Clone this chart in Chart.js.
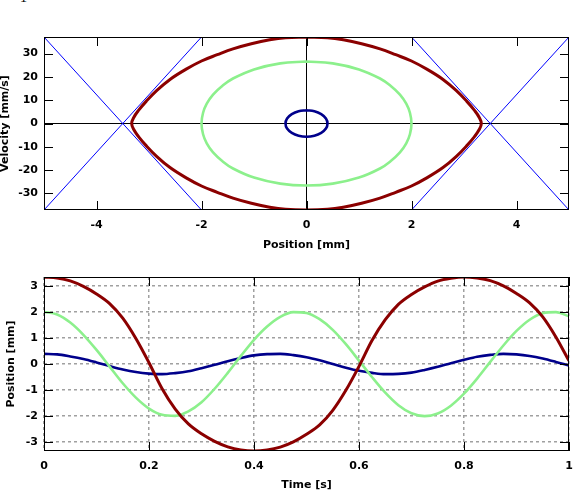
<!DOCTYPE html>
<html>
<head>
<meta charset="utf-8">
<script src="https://cdn.jsdelivr.net/npm/chart.js@4.4.1/dist/chart.umd.min.js"></script>
<style>
  body { margin: 0; background: #fff; width: 574px; height: 492px; overflow: hidden; position: relative; }
  canvas { position: absolute; left: 0; }
  #phase_canvas { top: 0; }
  #time_canvas { top: 252px; }
  #corner_label { position: absolute; left: 20px; top: -9px; font-family: "Liberation Serif", serif; font-size: 14px; line-height: 14px; }
</style>
</head>
<body>
<div id="corner_label">1</div>
<canvas id="phase_canvas" width="574" height="252"></canvas>
<canvas id="time_canvas" width="574" height="240"></canvas>
<script>
Chart.defaults.color = '#000';
Chart.defaults.font.family = '"DejaVu Sans", sans-serif';
Chart.defaults.font.size = 11;
Chart.defaults.font.weight = 'bold';
Chart.defaults.animation = false;

const red_color = '#8b0000';
const green_color = '#8cf08c';
const navy_color = '#00008b';
const separatrix_color = '#0000ff';
const TICK_LEN = 9;

// ---- phase portrait (position [mm] vs velocity [mm/s]) ----
const phase_x_ticks = [-4, -2, 0, 2, 4];
const phase_v_ticks = [-30, -20, -10, 0, 10, 20, 30];

const red_loop_x = [0, -0.4, -0.7, -1.05, -1.4, -1.7, -2.0, -2.3, -2.6, -2.85, -3.05, -3.2, -3.29, -3.33,
    -3.29, -3.2, -3.05, -2.85, -2.6, -2.3, -2.0, -1.7, -1.4, -1.05, -0.7, -0.4, 0,
    0.4, 0.7, 1.05, 1.4, 1.7, 2.0, 2.3, 2.6, 2.85, 3.05, 3.2, 3.29, 3.33,
    3.29, 3.2, 3.05, 2.85, 2.6, 2.3, 2.0, 1.7, 1.4, 1.05, 0.7, 0.4, 0];
const red_loop_v = [37.1, 36.8, 35.9, 34.2, 32.0, 29.5, 26.8, 23.2, 18.9, 14.2, 9.6, 5.6, 2.6, 0,
    -2.6, -5.6, -9.6, -14.2, -18.9, -23.2, -26.8, -29.5, -32.0, -34.2, -35.9, -36.8, -37.1,
    -36.8, -35.9, -34.2, -32.0, -29.5, -26.8, -23.2, -18.9, -14.2, -9.6, -5.6, -2.6, 0,
    2.6, 5.6, 9.6, 14.2, 18.9, 23.2, 26.8, 29.5, 32.0, 34.2, 35.9, 36.8, 37.1];

const green_loop_x = [0, -0.5, -1.0, -1.4, -1.6, -1.78, -1.9, -1.97, -2.0, -1.97, -1.9, -1.78, -1.6, -1.4, -1.0, -0.5,
    0, 0.5, 1.0, 1.4, 1.6, 1.78, 1.9, 1.97, 2.0, 1.97, 1.9, 1.78, 1.6, 1.4, 1.0, 0.5, 0];
const green_loop_v = [26.6, 25.8, 23.2, 19.3, 16.2, 12.4, 8.5, 4.6, 0, -4.6, -8.5, -12.4, -16.2, -19.3, -23.2, -25.8,
    -26.6, -25.8, -23.2, -19.3, -16.2, -12.4, -8.5, -4.6, 0, 4.6, 8.5, 12.4, 16.2, 19.3, 23.2, 25.8, 26.6];

const navy_loop_x = [0, -0.15, -0.28, -0.37, -0.40, -0.37, -0.28, -0.15, 0, 0.15, 0.28, 0.37, 0.40, 0.37, 0.28, 0.15, 0];
const navy_loop_v = [5.7, 5.27, 4.03, 2.18, 0, -2.18, -4.03, -5.27, -5.7, -5.27, -4.03, -2.18, 0, 2.18, 4.03, 5.27, 5.7];

// asymptote lines through the saddle points
const separatrix_x = [[-5, -2], [-5, -2], [2, 5], [2, 5]];
const separatrix_v = [[-37.1, 37.1], [37.1, -37.1], [37.1, -37.1], [-37.1, 37.1]];

// ---- position vs time ----
const time_ticks = [0, 0.2, 0.4, 0.6, 0.8, 1];
const pos_ticks = [-3, -2, -1, 0, 1, 2, 3];

const time_s = [0, 0.025, 0.05, 0.075, 0.1, 0.125, 0.15, 0.175, 0.2, 0.225,
    0.25, 0.275, 0.3, 0.325, 0.35, 0.375, 0.4, 0.425, 0.45, 0.475,
    0.5, 0.525, 0.55, 0.575, 0.6, 0.625, 0.65, 0.675, 0.7, 0.725,
    0.75, 0.775, 0.8, 0.825, 0.85, 0.875, 0.9, 0.925, 0.95, 0.975, 1];
const red_pos = [3.34, 3.30, 3.19, 2.98, 2.69, 2.32, 1.76, 0.98, 0.05, -0.95,
    -1.73, -2.30, -2.68, -2.97, -3.18, -3.30, -3.34, -3.30, -3.19, -2.99,
    -2.70, -2.34, -1.78, -1.01, -0.09, 0.91, 1.70, 2.29, 2.67, 2.96,
    3.18, 3.29, 3.34, 3.30, 3.20, 3.00, 2.71, 2.35, 1.81, 1.04, 0.12];
const green_pos = [2.00, 1.90, 1.59, 1.12, 0.54, -0.10, -0.74, -1.29, -1.71, -1.95,
    -1.99, -1.82, -1.47, -0.95, -0.34, 0.31, 0.93, 1.44, 1.81, 1.99,
    1.96, 1.72, 1.31, 0.76, 0.13, -0.51, -1.10, -1.58, -1.89, -2.00,
    -1.90, -1.60, -1.14, -0.56, 0.08, 0.71, 1.27, 1.70, 1.95, 1.99, 1.83];
const navy_pos = [0.39, 0.37, 0.29, 0.19, 0.06, -0.08, -0.21, -0.31, -0.37, -0.39,
    -0.35, -0.28, -0.16, -0.03, 0.11, 0.23, 0.33, 0.38, 0.39, 0.34,
    0.26, 0.14, 0.00, -0.14, -0.26, -0.34, -0.39, -0.38, -0.33, -0.23,
    -0.11, 0.03, 0.16, 0.28, 0.35, 0.39, 0.37, 0.31, 0.21, 0.08, -0.06];

function pairs(xs, ys) {
    return xs.map((x, i) => ({ x: x, y: ys[i] }));
}

function useTicks(values) {
    return scale => { scale.ticks = values.map(v => ({ value: v })); };
}

// keep the axis boxes at fixed sizes so the plot areas line up
function pinWidth(width) {
    return scale => { scale.width = width; scale.paddingTop = 0; scale.paddingBottom = 0; };
}
function pinHeight(height) {
    return scale => { scale.height = height; scale.paddingLeft = 0; scale.paddingRight = 0; };
}

// black frame with inward tick marks on all four sides
const framePlugin = {
    id: 'frame',
    afterDraw(chart) {
        const { ctx, chartArea: a, scales } = chart;
        ctx.save();
        ctx.strokeStyle = '#000';
        ctx.lineWidth = 1;
        ctx.setLineDash([]);
        ctx.beginPath();
        scales.x.ticks.forEach(t => {
            const px = Math.round(scales.x.getPixelForValue(t.value)) + 0.5;
            ctx.moveTo(px, a.top); ctx.lineTo(px, a.top + TICK_LEN);
            ctx.moveTo(px, a.bottom); ctx.lineTo(px, a.bottom - TICK_LEN);
        });
        scales.y.ticks.forEach(t => {
            const py = Math.round(scales.y.getPixelForValue(t.value)) + 0.5;
            ctx.moveTo(a.left, py); ctx.lineTo(a.left + TICK_LEN, py);
            ctx.moveTo(a.right, py); ctx.lineTo(a.right - TICK_LEN, py);
        });
        ctx.stroke();
        ctx.strokeRect(a.left + 0.5, a.top + 0.5, a.right - a.left - 1, a.bottom - a.top - 1);
        ctx.restore();
    }
};

function curve(data, color, width) {
    return {
        data: data,
        showLine: true,
        borderColor: color,
        borderWidth: width,
        pointRadius: 0,
        tension: 0.4,
        fill: false
    };
}

function trace(data, color, width) {
    const c = curve(data, color, width);
    c.cubicInterpolationMode = 'monotone';
    return c;
}

const zeroLine = ctx => (ctx.tick && ctx.tick.value === 0) ? '#000' : 'rgba(0,0,0,0)';

const phaseDatasets = [
    curve(pairs(red_loop_x, red_loop_v), red_color, 3),
    curve(pairs(green_loop_x, green_loop_v), green_color, 2.6),
    curve(pairs(navy_loop_x, navy_loop_v), navy_color, 2.6)
];
separatrix_x.forEach((xs, i) => {
    const line = curve(pairs(xs, separatrix_v[i]), separatrix_color, 1);
    line.tension = 0;
    phaseDatasets.push(line);
});

new Chart(document.getElementById('phase_canvas'), {
    type: 'scatter',
    data: { datasets: phaseDatasets },
    options: {
        responsive: false,
        devicePixelRatio: 1,
        layout: { padding: { top: 37, right: 5, left: 0, bottom: 0 } },
        plugins: { legend: { display: false }, tooltip: { enabled: false } },
        scales: {
            x: {
                type: 'linear', min: -5, max: 5,
                afterBuildTicks: useTicks(phase_x_ticks),
                afterFit: pinHeight(42),
                ticks: { padding: 9, maxRotation: 0, autoSkip: false, callback: v => String(v) },
                grid: { drawTicks: false, color: zeroLine, lineWidth: 1 },
                border: { display: false },
                title: { display: true, text: 'Position [mm]', padding: 0 }
            },
            y: {
                type: 'linear', min: -37.1, max: 37.1,
                afterBuildTicks: useTicks(phase_v_ticks),
                afterFit: pinWidth(44),
                ticks: { padding: 6, autoSkip: false, callback: v => String(v) },
                grid: { drawTicks: false, color: zeroLine, lineWidth: 1 },
                border: { display: false },
                title: { display: true, text: 'Velocity [mm/s]', padding: 0, font: { lineHeight: 1 } }
            }
        }
    },
    plugins: [framePlugin]
});

new Chart(document.getElementById('time_canvas'), {
    type: 'scatter',
    data: {
        datasets: [
            trace(pairs(time_s, red_pos), red_color, 3),
            trace(pairs(time_s, green_pos), green_color, 2.6),
            trace(pairs(time_s, navy_pos), navy_color, 2.6)
        ]
    },
    options: {
        responsive: false,
        devicePixelRatio: 1,
        layout: { padding: { top: 25, right: 5, left: 0, bottom: 0 } },
        plugins: { legend: { display: false }, tooltip: { enabled: false } },
        scales: {
            x: {
                type: 'linear', min: 0, max: 1,
                afterBuildTicks: useTicks(time_ticks),
                afterFit: pinHeight(41),
                ticks: { padding: 9, maxRotation: 0, autoSkip: false, callback: v => String(v) },
                grid: { drawTicks: false, color: '#a0a0a0', lineWidth: 1.5 },
                border: { display: false, dash: [3, 3] },
                title: { display: true, text: 'Time [s]', padding: 0 }
            },
            y: {
                type: 'linear', min: -3.34, max: 3.34,
                afterBuildTicks: useTicks(pos_ticks),
                afterFit: pinWidth(44),
                ticks: { padding: 6, autoSkip: false, callback: v => String(v) },
                grid: { drawTicks: false, color: '#a0a0a0', lineWidth: 1.5 },
                border: { display: false, dash: [3, 3] },
                title: { display: true, text: 'Position [mm]', padding: { top: 5, bottom: 0 } }
            }
        }
    },
    plugins: [framePlugin]
});
</script>
</body>
</html>
